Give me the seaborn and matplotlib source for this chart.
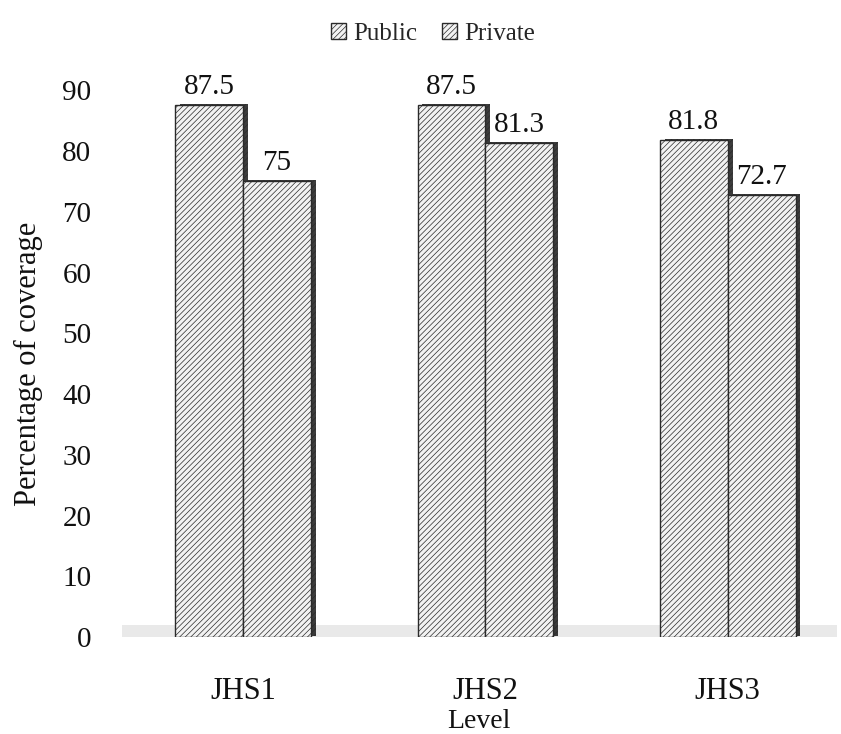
import matplotlib
matplotlib.use("Agg")
import matplotlib.pyplot as plt
import matplotlib.patches as mpatches
import matplotlib.patheffects as pe
import seaborn as sns
import pandas as pd

levels = ["JHS1", "JHS2", "JHS3"]
sectors = ["Public", "Private"]
public_values = [87.5, 87.5, 81.8]
private_values = [75, 81.3, 72.7]
y_ticks = [0, 10, 20, 30, 40, 50, 60, 70, 80, 90]

df = pd.DataFrame({
    "Level": levels * 2,
    "Sector": ["Public"] * 3 + ["Private"] * 3,
    "Coverage": public_values + private_values,
})

sns.set_theme(style="white")
plt.rcParams["font.family"] = ["Liberation Serif", "DejaVu Serif"]
plt.rcParams["hatch.color"] = "#5a5a5a"
plt.rcParams["hatch.linewidth"] = 0.5

fig = plt.figure(figsize=(8.41, 7.34), dpi=100)
ax = fig.add_axes([0.145, 0.132, 0.85, 0.745])

face = "#f2f2f2"
sns.barplot(data=df, x="Level", y="Coverage", hue="Sector",
            hue_order=sectors, order=levels,
            palette=[face, face], width=0.56, edgecolor="#2a2a2a",
            linewidth=1.0, legend=False, ax=ax, zorder=3)

# hatch fill plus a dark side shadow for the raised look
shadow = [pe.SimplePatchShadow(offset=(3.5, 1), shadow_rgbFace="#1a1a1a", alpha=0.85),
          pe.Normal()]
for p in ax.patches:
    p.set_hatch("//////")
    p.set_path_effects(shadow)

for cont in ax.containers:
    ax.bar_label(cont, labels=[f"{v:g}" for v in cont.datavalues],
                 padding=4, fontsize=21, color="#111111")

# pale floor strip
ax.axhspan(-0.3, 2.0, color="#e4e4e4", alpha=0.8, zorder=0, lw=0)

ax.set_ylim(0, 90)
ax.set_xlim(-0.5, 2.45)
ax.set_yticks(y_ticks)
ax.tick_params(axis="y", length=0, pad=22, labelsize=21, labelcolor="#111111")
ax.tick_params(axis="x", length=0, pad=29, labelsize=22, labelcolor="#111111")
ax.set_xlabel("Level", fontsize=20, color="#111111", labelpad=2)
ax.set_ylabel("Percentage of coverage", fontsize=22, color="#111111", labelpad=14)
for s in ax.spines.values():
    s.set_visible(False)

handles = [mpatches.Patch(facecolor=face, edgecolor="#2a2a2a", hatch="//////", label=s)
           for s in sectors]
fig.legend(handles=handles, loc="upper center", bbox_to_anchor=(0.515, 1.0),
           ncol=2, frameon=False, fontsize=18, handlelength=0.6, handleheight=0.6,
           handletextpad=0.3, columnspacing=1.0)

fig.savefig("out.png", dpi=100, facecolor="white")
